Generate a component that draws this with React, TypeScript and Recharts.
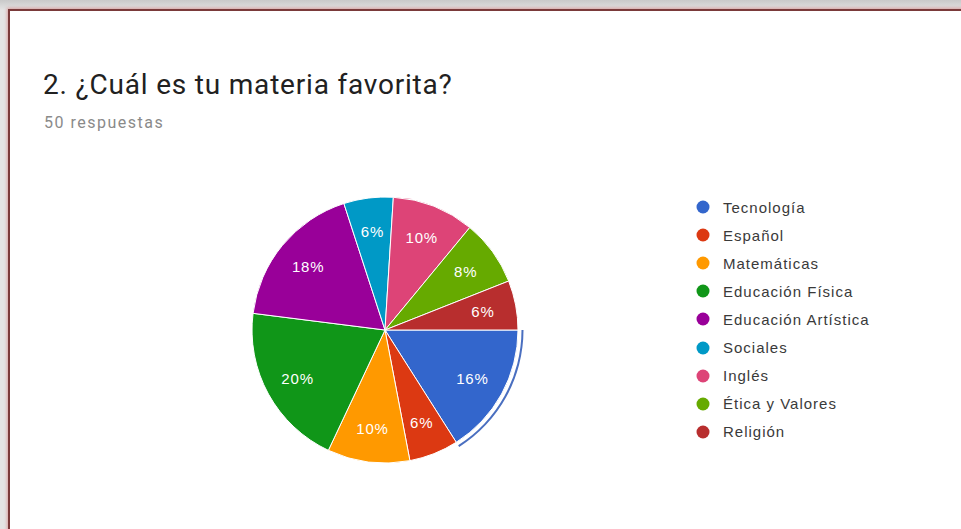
import { PieChart, Pie, Cell, Legend } from 'recharts';

const materias = [
  'Tecnología',
  'Español',
  'Matemáticas',
  'Educación Física',
  'Educación Artística',
  'Sociales',
  'Inglés',
  'Ética y Valores',
  'Religión',
];
const respuestas = [8, 3, 5, 10, 9, 3, 5, 4, 3];
const colores = [
  '#3366cc',
  '#dc3912',
  '#ff9900',
  '#109618',
  '#990099',
  '#0099c6',
  '#dd4477',
  '#66aa00',
  '#b82e2e',
];
// slice shown with the hover ring
const resaltada = 'Tecnología';

const data = materias.map((name, i) => ({ name, value: respuestas[i] }));

const RADIAN = Math.PI / 180;

const renderLabel = ({ cx, cy, midAngle, outerRadius, percent }: any) => {
  const r = outerRadius * 0.75;
  const x = cx + r * Math.cos(-midAngle * RADIAN);
  const y = cy + r * Math.sin(-midAngle * RADIAN);
  return (
    <text
      x={x}
      y={y}
      fill="#fff"
      textAnchor="middle"
      dominantBaseline="central"
      style={{ fontFamily: 'Liberation Sans, Arial', fontSize: 15, letterSpacing: 0.8 }}
    >
      {`${Math.round(percent * 100)}%`}
    </text>
  );
};

const renderLegend = ({ payload }: any) => {
  const items = (payload || [])
    .filter((e: any) => e.type !== 'none' && materias.includes(e.value))
    .filter((e: any, i: number, arr: any[]) => arr.findIndex((o) => o.value === e.value) === i)
    .sort((a: any, b: any) => materias.indexOf(a.value) - materias.indexOf(b.value));
  return (
    <ul style={{ listStyle: 'none', margin: 0, padding: 0 }}>
      {items.map((entry: any) => (
        <li
          key={entry.value}
          style={{ height: 28.1, display: 'flex', alignItems: 'center' }}
        >
          <svg width={14} height={14} style={{ marginRight: 13 }}>
            <circle cx={7} cy={7} r={6.5} fill={entry.color} />
          </svg>
          <span
            style={{
              fontFamily: 'Liberation Sans, Arial',
              fontSize: 15,
              letterSpacing: 1,
              color: '#3a3a3a',
            }}
          >
            {entry.value}
          </span>
        </li>
      ))}
    </ul>
  );
};

export default function App() {
  return (
    <div
      style={{
        position: 'relative',
        width: 961,
        height: 529,
        overflow: 'hidden',
        background: 'linear-gradient(#c9c9c9, #e4e4e4 10px)',
      }}
    >
      <style>{'body{margin:0}'}</style>
      <div
        style={{
          position: 'absolute',
          left: 8,
          top: 9,
          width: 970,
          height: 540,
          background: '#fff',
          borderLeft: '2px solid #7a3a3a',
          borderTop: '2px solid #7a3a3a',
          boxShadow: '0 0 3px 1px rgba(210,110,110,0.55)',
        }}
      />
      <div
        style={{
          position: 'absolute',
          left: 43,
          top: 69,
          fontFamily: 'Roboto',
          fontSize: 28,
          lineHeight: '32px',
          letterSpacing: 0.8,
          color: '#212121',
          whiteSpace: 'nowrap',
        }}
      >
        2. ¿Cuál es tu materia favorita?
      </div>
      <div
        style={{
          position: 'absolute',
          left: 44,
          top: 114,
          fontFamily: 'Roboto',
          fontSize: 16,
          lineHeight: '18px',
          letterSpacing: 1.5,
          color: '#8a8a8a',
          whiteSpace: 'nowrap',
        }}
      >
        50 respuestas
      </div>
      <div style={{ position: 'absolute', left: 0, top: 0 }}>
        <PieChart width={961} height={529} margin={{ top: 0, right: 0, bottom: 0, left: 0 }}>
          <Pie
            data={data}
            dataKey="value"
            nameKey="name"
            cx={385}
            cy={330}
            outerRadius={133}
            startAngle={0}
            endAngle={-360}
            stroke="#fff"
            strokeWidth={1}
            label={renderLabel}
            labelLine={false}
            legendType="circle"
            isAnimationActive={false}
          >
            {data.map((d, i) => (
              <Cell key={d.name} fill={colores[i]} />
            ))}
          </Pie>
          <Pie
            data={data}
            dataKey="value"
            nameKey="name"
            cx={385}
            cy={330}
            innerRadius={136.5}
            outerRadius={138.5}
            startAngle={0}
            endAngle={-360}
            stroke="none"
            legendType="none"
            isAnimationActive={false}
          >
            {data.map((d) => (
              <Cell key={d.name} fill={d.name === resaltada ? '#4a6fc0' : 'transparent'} />
            ))}
          </Pie>
          <Legend
            layout="vertical"
            verticalAlign="top"
            align="right"
            itemSorter={null as any}
            content={renderLegend}
            wrapperStyle={{ left: 696, top: 193, right: 'auto', width: 240 }}
          />
        </PieChart>
      </div>
    </div>
  );
}
